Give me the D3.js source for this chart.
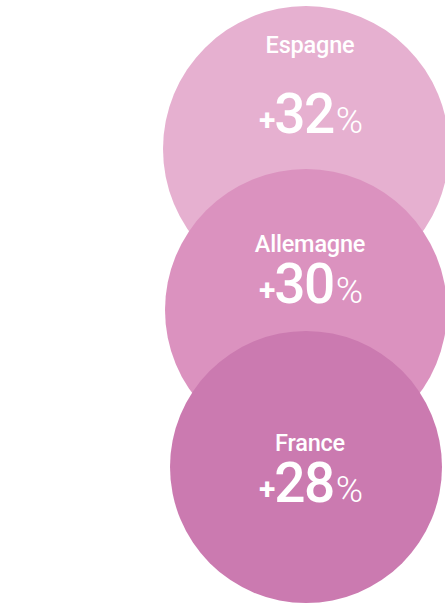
<!DOCTYPE html>
<html>
<head>
<meta charset="utf-8">
<script src="https://cdn.jsdelivr.net/npm/d3@7"></script>
<style>
  html, body { margin: 0; padding: 0; background: #ffffff; }
  svg { display: block; }
  text { font-family: Roboto, "Liberation Sans", Arial, sans-serif; fill: #ffffff; }
</style>
</head>
<body>
<svg id="chart" width="445" height="605"></svg>
<script>
// ---- data ----
const countries = ["Espagne", "Allemagne", "France"];
const growth = [32, 30, 28];            // % increase
const colors = ["#e6b0d0", "#db92bf", "#cb7ab0"];

// ---- layout (not data) ----
const labelDy = [-96, -58, -16];   // label baseline offset from circle centre
const valueDy = [-16, -7, 35];     // value baseline offset from circle centre

const svg = d3.select("#chart");

const y = d3.scalePoint().domain(countries).range([149, 467]);
const r = d3.scaleLinear().domain([28, 30, 32]).range([136, 141, 143]);
const cx = 306;

const rows = countries.map((c, i) => ({ name: c, value: growth[i], color: colors[i], i }));

const g = svg.selectAll("g.bubble").data(rows).join("g")
  .attr("class", "bubble")
  .attr("transform", (d, i) => `translate(${cx},${y(d.name) + (i === 1 ? 2 : 0)})`);

g.append("circle")
  .attr("r", d => r(d.value))
  .attr("fill", d => d.color);

g.append("text")
  .attr("text-anchor", "middle")
  .attr("x", 4)
  .attr("y", d => labelDy[d.i])
  .attr("font-size", 23.5)
  .attr("font-weight", 500)
  .attr("letter-spacing", -0.2)
  .text(d => d.name);

const v = g.append("text")
  .attr("text-anchor", "middle")
  .attr("x", 5)
  .attr("y", d => valueDy[d.i]);
v.append("tspan").attr("font-size", 30).attr("font-weight", 700).attr("dy", -3).text("+");
v.append("tspan").attr("font-size", 55).attr("font-weight", 500).attr("dy", 3).attr("dx", -1).attr("letter-spacing", -1.5).text(d => d.value);
v.append("tspan").attr("font-size", 37).attr("font-weight", 300).attr("dx", 2).text("%");
</script>
</body>
</html>
